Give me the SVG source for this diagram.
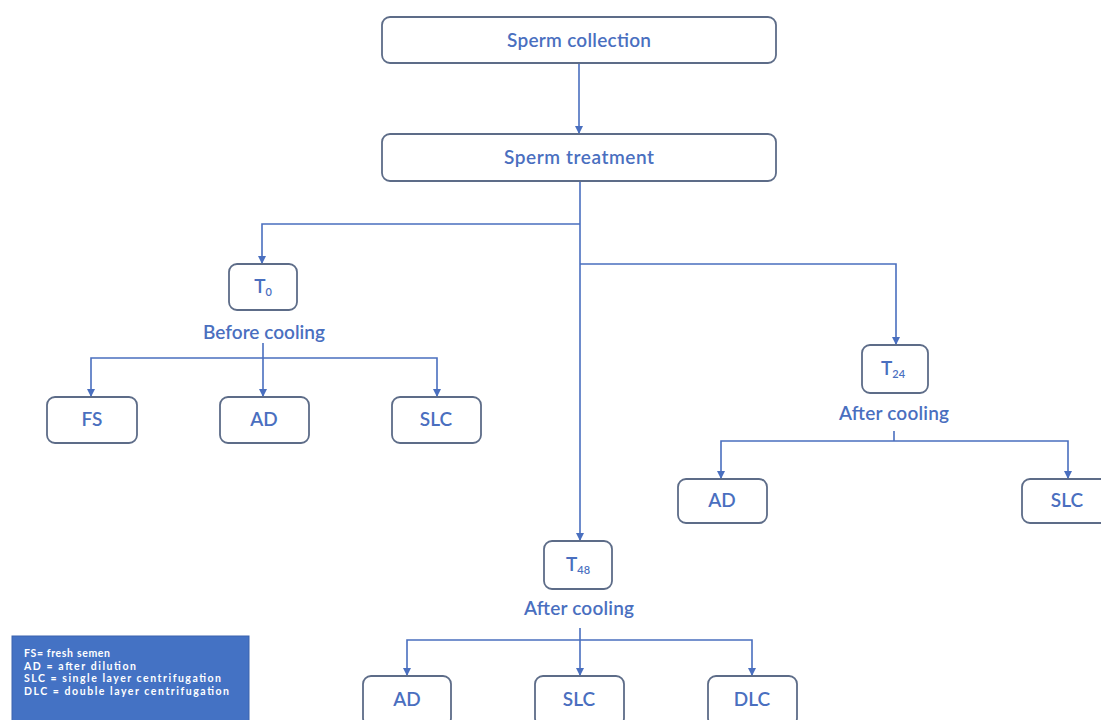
<svg xmlns="http://www.w3.org/2000/svg" width="1101" height="720" viewBox="0 0 1101 720">
<defs>
<marker id="arr" viewBox="0 0 10 10" refX="10" refY="5" markerWidth="8" markerHeight="8" markerUnits="userSpaceOnUse" orient="auto">
<path d="M0,0 L10,5 L0,10 Z" fill="#4a6fbf"/>
</marker>
<style>
.box{fill:#fff;stroke:#5d6c88;stroke-width:1.8}
.t{font-family:Lato,"Open Sans","Liberation Sans",sans-serif;font-size:19px;font-weight:600;fill:#4a6fbf;text-anchor:middle}
.lbl{font-family:Lato,"Open Sans","Liberation Sans",sans-serif;font-size:19px;font-weight:600;fill:#4a6fbf;text-anchor:middle}
.c{fill:none;stroke:#4a6fbf;stroke-width:1.6}
.leg{font-family:Lato,"Open Sans","Liberation Sans",sans-serif;font-size:10.5px;font-weight:bold;fill:#fff}
</style>
</defs>
<rect width="1101" height="720" fill="#fff"/>
<g id="connectors">
<path class="c" d="M579,63 V134" marker-end="url(#arr)"/>
<path class="c" d="M580,181 V541" marker-end="url(#arr)"/>
<path class="c" d="M580,224 H262 V264" marker-end="url(#arr)"/>
<path class="c" d="M580,264 H896 V345" marker-end="url(#arr)"/>
<path class="c" d="M263,343 V397" marker-end="url(#arr)"/>
<path class="c" d="M263,358 H91 V397" marker-end="url(#arr)"/>
<path class="c" d="M263,358 H437 V397" marker-end="url(#arr)"/>
<path class="c" d="M894,431 V441"/>
<path class="c" d="M894,441 H721 V479" marker-end="url(#arr)"/>
<path class="c" d="M894,441 H1068 V479" marker-end="url(#arr)"/>
<path class="c" d="M580,628 V676" marker-end="url(#arr)"/>
<path class="c" d="M580,640 H407 V676" marker-end="url(#arr)"/>
<path class="c" d="M580,640 H752 V676" marker-end="url(#arr)"/>
</g>
<g id="sperm-collection"><rect class="box" x="382" y="17" width="394" height="46" rx="8"/><text class="t" x="579" y="47" textLength="144">Sperm collection</text></g>
<g id="sperm-treatment"><rect class="box" x="382" y="134" width="394" height="47" rx="8"/><text class="t" x="579" y="164" textLength="150">Sperm treatment</text></g>
<g id="t0"><rect class="box" x="229" y="264" width="68" height="46" rx="8"/><text class="t" x="263" y="293" font-size="16">T<tspan font-size="11" dy="3">0</tspan></text><text class="lbl" x="264" y="339" textLength="122">Before cooling</text></g>
<g id="fs"><rect class="box" x="47" y="397" width="90" height="46" rx="8"/><text class="t" x="92" y="426">FS</text></g>
<g id="ad0"><rect class="box" x="220" y="397" width="89" height="46" rx="8"/><text class="t" x="264" y="426">AD</text></g>
<g id="slc0"><rect class="box" x="392" y="397" width="89" height="46" rx="8"/><text class="t" x="436" y="426">SLC</text></g>
<g id="t24"><rect class="box" x="862" y="345" width="66" height="48" rx="8"/><text class="t" x="893" y="375" font-size="16">T<tspan font-size="11" dy="3">24</tspan></text><text class="lbl" x="894" y="420" textLength="110">After cooling</text></g>
<g id="ad24"><rect class="box" x="678" y="479" width="89" height="44" rx="8"/><text class="t" x="722" y="507">AD</text></g>
<g id="slc24"><rect class="box" x="1022" y="479" width="90" height="44" rx="8"/><text class="t" x="1067" y="507">SLC</text></g>
<g id="t48"><rect class="box" x="544" y="541" width="68" height="48" rx="8"/><text class="t" x="578" y="571" font-size="16">T<tspan font-size="11" dy="3">48</tspan></text><text class="lbl" x="579" y="615" textLength="110">After cooling</text></g>
<g id="ad48"><rect class="box" x="363" y="676" width="88" height="50" rx="8"/><text class="t" x="407" y="706">AD</text></g>
<g id="slc48"><rect class="box" x="535" y="676" width="89" height="50" rx="8"/><text class="t" x="579" y="706">SLC</text></g>
<g id="dlc48"><rect class="box" x="708" y="676" width="89" height="50" rx="8"/><text class="t" x="752" y="706">DLC</text></g>
<g id="legend"><rect x="12" y="636" width="237" height="90" fill="#4472c4" stroke="#3a62ad" stroke-width="1"/>
<text class="leg" x="24" y="657" textLength="86">FS= fresh semen</text>
<text class="leg" x="24" y="669.5" textLength="112">AD = after dilution</text>
<text class="leg" x="24" y="682" textLength="197">SLC = single layer centrifugation</text>
<text class="leg" x="24" y="694.5" textLength="205">DLC = double layer centrifugation</text></g>
</svg>
